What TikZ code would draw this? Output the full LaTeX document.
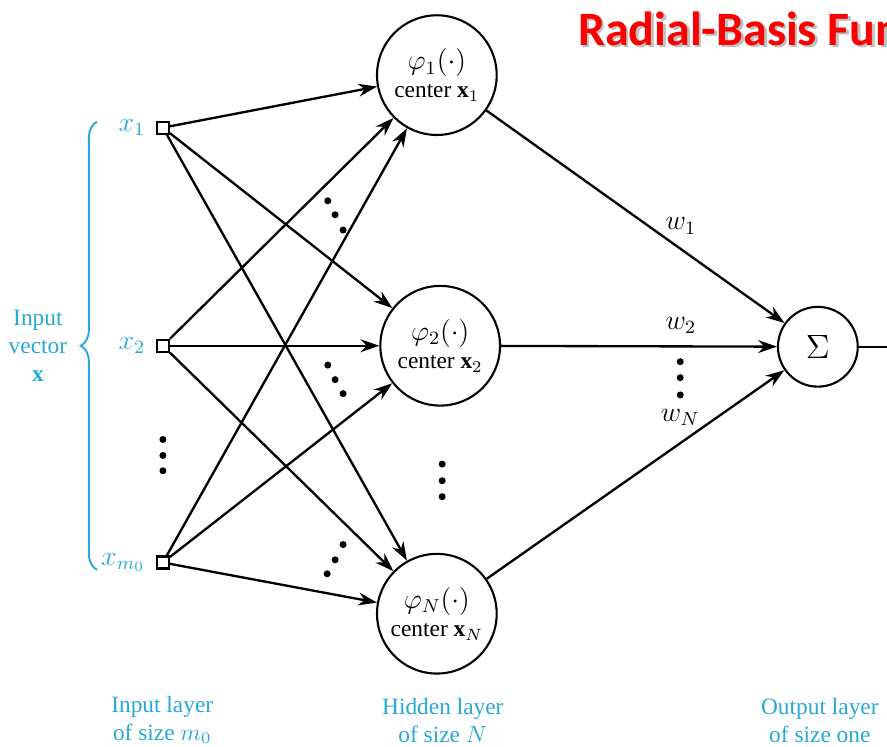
\documentclass[tikz,border=0pt]{standalone}
\usepackage{fontspec}
\setmainfont{Liberation Serif}
\newfontfamily\titlefont{Carlito}
\usetikzlibrary{arrows.meta,decorations.pathreplacing}

\begin{document}
\begin{tikzpicture}[>={Stealth[length=8pt,width=5.5pt]},
    neuron/.style={draw,circle,line width=0.9pt,minimum size=1.8cm,inner sep=0pt,align=center},
    sumnode/.style={draw,circle,line width=0.9pt,minimum size=1.2cm,inner sep=0pt},
    insq/.style={draw,rectangle,line width=0.9pt,minimum size=0.18cm,inner sep=0pt},
    conn/.style={->,line width=1pt},
    lab/.style={text=labCyan,align=center},
    xlab/.style={lab,label distance=1pt,font=\large},
    wlab/.style={inner sep=1pt,font=\large},
    title/.style={font=\titlefont\bfseries\fontsize{20.5}{22}\selectfont,inner sep=0pt,anchor=west}]
    \definecolor{labCyan}{RGB}{38,169,214}
    \definecolor{titleRed}{RGB}{250,0,0}
    \useasboundingbox (0,0) rectangle (13.34,11.23);
    \clip (0,0) rectangle (13.34,11.23);

    % title
    \node[title,text=black!25] (titleshadow) at (8.73,10.76) {Radial-Basis Function};
    \node[title,text=titleRed] (title) at (8.69,10.80) {Radial-Basis Function};

    % input layer
    \node[insq,label={[xlab]left:$x_1$}] (in1) at (2.45,9.31) {};
    \node[insq,label={[xlab]left:$x_2$}] (in2) at (2.45,6.03) {};
    \node[insq,label={[xlab]left:$x_{m_0}$}] (in3) at (2.45,2.77) {};
    \foreach \y in {4.62,4.38,4.15} \fill (2.45,\y) circle (1.5pt);

    \draw[labCyan,line width=0.8pt,decorate,decoration={brace,amplitude=7pt}]
        (1.46,2.66) -- (1.46,9.40);
    \node[lab] (invec) at (0.57,6.03) {Input\\vector\\$\mathbf{x}$};

    % hidden layer
    \node[neuron] (h1) at (6.57,10.1) {\large$\varphi_1(\cdot)$\\center $\mathbf{x}_1$};
    \node[neuron] (h2) at (6.62,6.03) {\large$\varphi_2(\cdot)$\\center $\mathbf{x}_2$};
    \node[neuron] (h3) at (6.57,2.0) {\large$\varphi_N(\cdot)$\\center $\mathbf{x}_N$};
    \foreach \y in {4.25,4.0,3.76} \fill (6.65,\y) circle (1.5pt);

    % output layer
    \node[sumnode] (sum) at (12.30,6.015) {\Large$\Sigma$};
    \coordinate (out) at (13.6,6.015);

    % connections
    \foreach \i in {in1,in2,in3}
        \foreach \j in {h1,h2,h3}
            \draw[conn] (\i) -- (\j);
    \foreach \j in {h1,h2,h3}
        \draw[conn] (\j) -- (sum);
    \draw[line width=1pt] (sum) -- (out);

    % dots between the incoming lines
    \foreach \x/\y in {4.93/8.21,5.04/8.0,5.16/7.77,
                       4.93/5.74,5.04/5.52,5.16/5.31,
                       5.16/3.04,5.04/2.81,4.92/2.60}
        \fill (\x,\y) circle (1.5pt);

    % weights
    \node[wlab] (w1) at (10.24,7.83) {$w_1$};
    \node[wlab] (w2) at (10.24,6.33) {$w_2$};
    \foreach \y in {5.79,5.55,5.29} \fill (10.23,\y) circle (1.5pt);
    \node[wlab] (wN) at (10.23,4.95) {$w_N$};

    % layer captions
    \node[lab] (capin) at (2.44,0.40) {Input layer\\of size $m_0$};
    \node[lab] (caphid) at (6.66,0.40) {Hidden layer\\of size $N$};
    \node[lab] (capout) at (12.33,0.40) {Output layer\\of size one};
\end{tikzpicture}
\end{document}
